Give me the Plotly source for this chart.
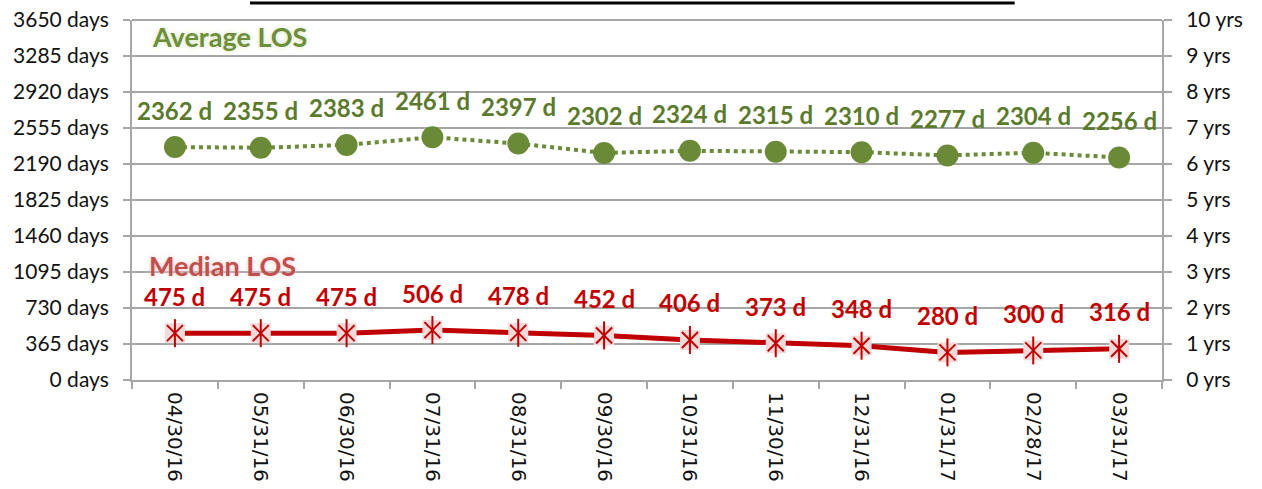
import plotly.graph_objects as go

months = ["04/30/16", "05/31/16", "06/30/16", "07/31/16", "08/31/16", "09/30/16",
          "10/31/16", "11/30/16", "12/31/16", "01/31/17", "02/28/17", "03/31/17"]
average_los = [2362, 2355, 2383, 2461, 2397, 2302, 2324, 2315, 2310, 2277, 2304, 2256]
median_los = [475, 475, 475, 506, 478, 452, 406, 373, 348, 280, 300, 316]
day_ticks = list(range(0, 3651, 365))
year_ticks = list(range(0, 11))

GREEN = "#6A8A37"
GREEN_TXT = "#5B7A2C"
RED = "#C00000"
PINK = "#F3D9D9"
GRID = "#A6A6A6"
FONT = "Lato, sans-serif"

fig = go.Figure()

# average LOS: dotted line with round markers
fig.add_trace(go.Scatter(
    x=months, y=average_los, mode="lines+markers",
    line=dict(color=GREEN, width=4, dash="dot"),
    marker=dict(symbol="circle", size=22, color=GREEN),
    hoverinfo="skip",
))

# median LOS: solid line, pink square + 6-arm star marker
fig.add_trace(go.Scatter(
    x=months, y=median_los, mode="lines+markers",
    line=dict(color=RED, width=5),
    marker=dict(symbol="square", size=20, color=PINK, line=dict(width=0)),
    hoverinfo="skip",
))
fig.add_trace(go.Scatter(
    x=months, y=median_los, mode="markers",
    marker=dict(symbol="x-thin-open", size=16, color=RED, line=dict(color=RED, width=2)),
    hoverinfo="skip",
))
fig.add_trace(go.Scatter(
    x=months, y=median_los, mode="markers",
    marker=dict(symbol="line-ns-open", size=20, color=RED, line=dict(color=RED, width=2)),
    hoverinfo="skip",
))

# invisible trace to activate the right axis
fig.add_trace(go.Scatter(x=months, y=[None] * len(months), yaxis="y2",
                         showlegend=False, hoverinfo="skip"))

annotations = []
for m, v in zip(months, average_los):
    annotations.append(dict(x=m, y=v, text=f"<b>{v} d</b>", showarrow=False,
                            yshift=37, font=dict(size=24, color=GREEN_TXT, family=FONT)))
for m, v in zip(months, median_los):
    annotations.append(dict(x=m, y=v, text=f"<b>{v} d</b>", showarrow=False,
                            yshift=37, font=dict(size=24, color=RED, family=FONT)))

annotations.append(dict(
    xref="paper", yref="paper", x=0.017, y=0.953, xanchor="left", yanchor="middle",
    text="<b>Average LOS</b>", showarrow=False,
    font=dict(size=27, color="#6E8E3C", family=FONT, shadow="0px 0px 5px #cfe3b5"),
))
annotations.append(dict(
    xref="paper", yref="paper", x=0.015, y=0.317, xanchor="left", yanchor="middle",
    text="<b>Median LOS</b>", showarrow=False,
    font=dict(size=27, color="#C0504D", family=FONT, shadow="0px 0px 5px #f2c4c4"),
))

shapes = [
    # title underline (the title itself sits above the visible area)
    dict(type="line", xref="paper", yref="paper",
         x0=0.1146, x1=0.857, y0=1.047, y1=1.047,
         line=dict(color="black", width=3)),
    # top gridline, which plotly drops at the range edge
    dict(type="line", xref="paper", yref="paper", x0=0, x1=1,
         y0=1, y1=1, layer="below",
         line=dict(color=GRID, width=2)),
]

fig.update_layout(
    width=1262, height=489,
    margin=dict(l=132, r=100, t=20, b=109),
    paper_bgcolor="white", plot_bgcolor="white",
    showlegend=False,
    font=dict(family=FONT, color="#111111", size=20),
    annotations=annotations,
    shapes=shapes,
    xaxis=dict(
        type="category", range=[-0.5, 11.5], tickson="boundaries",
        ticks="outside", ticklen=7, tickcolor=GRID, tickwidth=2,
        showline=True, linecolor=GRID, linewidth=2,
        showgrid=False, tickangle=90, automargin=False, ticklabelstandoff=6,
        ticklabeloverflow="allow",
        tickfont=dict(size=20, family="DejaVu Sans, sans-serif", color="#111111"),
    ),
    yaxis=dict(
        range=[0, 3650], tickvals=day_ticks,
        ticktext=[f"{d} days" for d in day_ticks],
        ticks="outside", ticklen=7, tickcolor=GRID, tickwidth=2,
        showline=True, linecolor=GRID, linewidth=2, automargin=False,
        showgrid=True, gridcolor=GRID, gridwidth=1.5, zeroline=False,
        ticklabelstandoff=10, ticklabeloverflow="allow",
        tickfont=dict(size=21, family=FONT, color="#111111"),
    ),
    yaxis2=dict(
        overlaying="y", side="right", range=[0, 10], tickvals=year_ticks,
        ticktext=[f"{y} yrs" for y in year_ticks],
        ticks="outside", ticklen=8, tickcolor=GRID, tickwidth=2,
        showline=True, linecolor=GRID, linewidth=2, automargin=False,
        showgrid=False, zeroline=False, ticklabelstandoff=10,
        ticklabeloverflow="allow",
        tickfont=dict(size=21, family=FONT, color="#111111"),
    ),
)

# drop the default 8px page margin so the chart sits at the window corner
fig.write_html("out.html", config={"displayModeBar": False},
               post_script="document.body.style.margin = '0';")
